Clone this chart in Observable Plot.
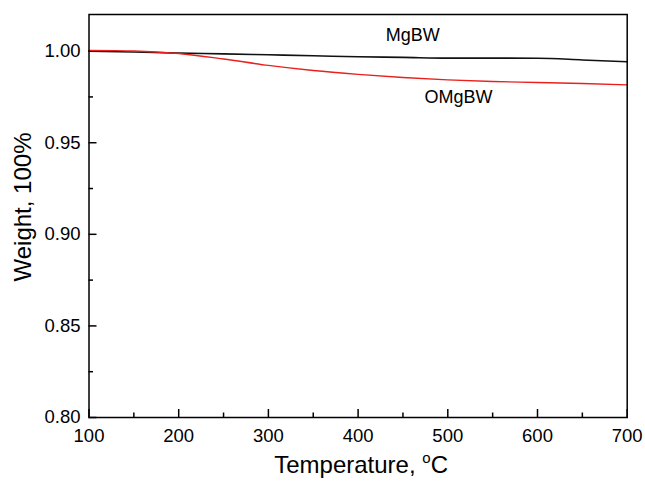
<!DOCTYPE html>
<html><head><meta charset="utf-8">
<script src="https://cdn.jsdelivr.net/npm/d3@7"></script>
<script src="https://cdn.jsdelivr.net/npm/@observablehq/plot@0.6"></script>
<style>body{margin:0;background:#fff}</style>
</head><body><div id="chart"></div>
<script>
const temperature = [100, 150, 200, 250, 300, 350, 400, 450, 500, 550, 600, 650, 700];
const mgbw  = [1.0000, 0.9995, 0.9989, 0.9985, 0.9980, 0.9975, 0.9969, 0.9966, 0.9962, 0.9962, 0.9961, 0.9952, 0.9942];
const omgbw = [1.0004, 1.0001, 0.9987, 0.9957, 0.9922, 0.9894, 0.9873, 0.9856, 0.9843, 0.9834, 0.9829, 0.9823, 0.9816];
const seriesNames = ["MgBW", "OMgBW"];
const labelX = [461, 512];
const labelY = [1.0086, 0.9747];
const xTicks = [100, 200, 300, 400, 500, 600, 700];
const xMinor = [150, 250, 350, 450, 550, 650];
const yTicks = [0.80, 0.85, 0.90, 0.95, 1.00];
const yMinor = [0.825, 0.875, 0.925, 0.975];
const xTitle = "Temperature, °C";
const yTitle = "Weight, 100%";

const rowsA = temperature.map((t, i) => ({t, w: mgbw[i]}));
const rowsB = temperature.map((t, i) => ({t, w: omgbw[i]}));
const labels = seriesNames.map((s, i) => ({s, x: labelX[i], y: labelY[i]}));

const W = 645, H = 481, mL = 88.5, mR = 18.3, mT = 14, mB = 64;
const fw = W - mL - mR, fh = H - mT - mB;
const font = "'Liberation Sans', Arial, Helvetica, sans-serif";
const plot = Plot.plot({
  width: W, height: H,
  marginLeft: mL, marginRight: mR, marginTop: mT, marginBottom: mB,
  style: {fontFamily: font, fontSize: "18px", color: "#000", background: "#fff", overflow: "visible"},
  x: {domain: [100, 700]},
  y: {domain: [0.80, 1.02]},
  marks: [
    Plot.axisX({ticks: xTicks, tickSize: 0, tickPadding: 11, tickFormat: d => String(d), fontSize: 18.5, label: null}),
    Plot.axisY({ticks: yTicks, tickSize: 0, tickPadding: 8.5, tickFormat: d3.format(".2f"), fontSize: 18.5, label: null}),
    Plot.tickX(xTicks, {x: d => d, insetTop: fh - 8, stroke: "#000", strokeWidth: 1.5}),
    Plot.tickX(xMinor, {x: d => d, insetTop: fh - 4.5, stroke: "#000", strokeWidth: 1.5}),
    Plot.tickY(yTicks, {y: d => d, insetRight: fw - 8, stroke: "#000", strokeWidth: 1.5}),
    Plot.tickY(yMinor, {y: d => d, insetRight: fw - 4.5, stroke: "#000", strokeWidth: 1.5}),
    Plot.line(rowsA, {x: "t", y: "w", stroke: "#111", strokeWidth: 1.6, curve: "monotone-x"}),
    Plot.line(rowsB, {x: "t", y: "w", stroke: "#e8211d", strokeWidth: 1.4, curve: "monotone-x"}),
    Plot.text(labels, {x: "x", y: "y", text: "s", fontSize: 18, fill: "#000"}),
    Plot.text([yTitle], {frameAnchor: "left", textAnchor: "middle", lineAnchor: "middle", dx: -66, dy: -9, rotate: -90, fontSize: 24, fill: "#000"}),
    Plot.text([xTitle], {frameAnchor: "bottom", textAnchor: "middle", lineAnchor: "middle", dx: 3, dy: 48, fontSize: 24, fill: "#000"}),
    Plot.frame({stroke: "#000", strokeWidth: 1.5})
  ]
});
document.getElementById("chart").appendChild(plot);

// superscript "o" in the x title
d3.select(plot).selectAll("text").each(function() {
  if (this.textContent === xTitle) {
    const t = d3.select(this);
    t.text(null);
    t.append("tspan").text("Temperature, ");
    t.append("tspan").attr("dy", "-10px").attr("font-size", "15px").text("o");
    t.append("tspan").attr("dy", "10px").text("C");
  }
});
</script>
</body></html>
